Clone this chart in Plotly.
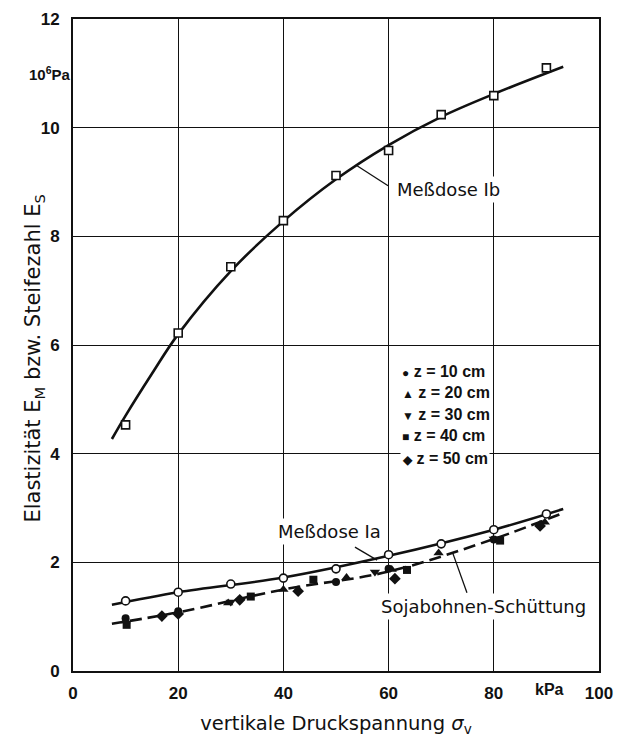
import plotly.graph_objects as go

# Meßdose Ib: measured stiffness values and fitted curve
sigma_ib = [10, 20, 30, 40, 50, 60, 70, 80, 90]
e_ib = [4.53, 6.22, 7.44, 8.29, 9.12, 9.58, 10.24, 10.59, 11.10]
fit_ib_x = [7.4, 10, 15, 20, 30, 40, 50, 60, 70, 80, 93.2]
fit_ib_y = [4.27, 4.70, 5.47, 6.20, 7.36, 8.28, 9.05, 9.68, 10.20, 10.62, 11.12]

# Meßdose Ia
sigma_ia = [10, 20, 30, 40, 50, 60, 70, 80, 90]
e_ia = [1.29, 1.45, 1.60, 1.71, 1.88, 2.14, 2.34, 2.60, 2.89]
fit_ia_x = [7.4, 20, 40, 60, 80, 93.2]
fit_ia_y = [1.22, 1.45, 1.72, 2.12, 2.60, 2.98]

# Sojabohnen-Schüttung (fitted dashed line)
fit_soja_x = [7.4, 20, 40, 60, 80, 93.2]
fit_soja_y = [0.87, 1.08, 1.50, 1.83, 2.43, 2.91]

# Bulk measurements by depth z
z10_x = [10, 20, 50, 60, 80]
z10_y = [0.97, 1.10, 1.64, 1.88, 2.42]
z20_x = [10, 29.5, 40, 52, 60.6, 69.5, 89.7]
z20_y = [0.92, 1.25, 1.50, 1.72, 1.87, 2.17, 2.74]
z30_x = [30, 57.4, 80]
z30_y = [1.27, 1.82, 2.43]
z40_x = [10.2, 33.8, 45.7, 63.5, 81.2]
z40_y = [0.85, 1.37, 1.68, 1.86, 2.40]
z50_x = [16.9, 20, 31.7, 42.8, 61.2, 88.8]
z50_y = [1.01, 1.05, 1.31, 1.47, 1.70, 2.67]

x_ticks = [0, 20, 40, 60, 80, 100]
y_ticks = [0, 2, 4, 6, 8, 10, 12]

legend_rows = [
    ("●", "z = 10 cm"),
    ("▲", "z = 20 cm"),
    ("▼", "z = 30 cm"),
    ("■", "z = 40 cm"),
    ("◆", "z = 50 cm"),
]

TXT = "DejaVu Sans"
BOLD = "Liberation Sans"
ink = "#111111"

fig = go.Figure()

fig.add_trace(go.Scatter(x=fit_ib_x, y=fit_ib_y, mode="lines",
                         line=dict(color=ink, width=2.6, shape="spline", smoothing=1.0)))
fig.add_trace(go.Scatter(x=fit_ia_x, y=fit_ia_y, mode="lines",
                         line=dict(color=ink, width=2.6, shape="spline", smoothing=1.0)))
fig.add_trace(go.Scatter(x=fit_soja_x, y=fit_soja_y, mode="lines",
                         line=dict(color=ink, width=2.6, dash="12px,6px", shape="spline", smoothing=1.0)))

for xs, ys, sym, size in [
    (z10_x, z10_y, "circle", 8),
    (z20_x, z20_y, "triangle-up", 9),
    (z30_x, z30_y, "triangle-down", 9),
    (z40_x, z40_y, "square", 8),
    (z50_x, z50_y, "diamond", 9),
]:
    fig.add_trace(go.Scatter(x=xs, y=ys, mode="markers",
                             marker=dict(symbol=sym, size=size, color=ink, line=dict(width=0))))

fig.add_trace(go.Scatter(x=sigma_ib, y=e_ib, mode="markers",
                         marker=dict(symbol="square", size=8, color="white",
                                     line=dict(color=ink, width=1.6))))
fig.add_trace(go.Scatter(x=sigma_ia, y=e_ia, mode="markers",
                         marker=dict(symbol="circle", size=8, color="white",
                                     line=dict(color=ink, width=1.6))))

# leader lines for the curve labels
for x0, y0, x1, y1 in [(54.0, 9.30, 59.9, 8.93),
                       (53.6, 2.28, 57.8, 2.04),
                       (74.9, 1.44, 72.2, 2.17)]:
    fig.add_shape(type="line", x0=x0, y0=y0, x1=x1, y1=y1, xref="x", yref="y",
                  line=dict(color=ink, width=1.3), layer="above")

annos = [
    dict(x=71.3, y=8.86, text="Meßdose Ib"),
    dict(x=48.7, y=2.56, text="Meßdose Ia"),
    dict(x=78.0, y=1.18, text="Sojabohnen-Schüttung"),
]
for a in annos:
    fig.add_annotation(x=a["x"], y=a["y"], text=a["text"], xref="x", yref="y",
                       showarrow=False, bgcolor="white", borderpad=2,
                       font=dict(family=TXT, size=18, color=ink))

# legend for the depth symbols
leg_y = [5.51, 5.12, 4.73, 4.33, 3.92]
for (glyph, label), yy in zip(legend_rows, leg_y):
    fig.add_annotation(x=62.2, y=yy, xref="x", yref="y", xanchor="left",
                       text=f"<span style='font-size:12px'>{glyph}</span> {label}",
                       showarrow=False, bgcolor="white", borderpad=1,
                       font=dict(family=BOLD, size=16, color=ink, weight="bold"))

# unit labels
fig.add_annotation(x=0, y=11.0, xref="paper", yref="y", xanchor="right",
                   text="10<sup>6</sup>Pa", showarrow=False,
                   font=dict(family=BOLD, size=15, color=ink, weight="bold"))
fig.add_annotation(x=90.5, y=0, xref="x", yref="paper", yanchor="top", yshift=-8,
                   text="kPa", showarrow=False,
                   font=dict(family=BOLD, size=16, color=ink, weight="bold"))

# y-axis title, centred a little below the middle of the axis
fig.add_annotation(x=0, y=5.75, xref="paper", yref="y", xshift=-54,
                   text="Elastizität E<sub>M</sub> bzw. Steifezahl E<sub>S</sub>",
                   textangle=-90, showarrow=False,
                   font=dict(family=TXT, size=21, color=ink))

fig.update_layout(
    width=617, height=737,
    margin=dict(l=73, r=18, t=19, b=66, autoexpand=False),
    paper_bgcolor="white", plot_bgcolor="white",
    showlegend=False,
    xaxis=dict(range=[0, 100], tickvals=x_ticks, automargin=False,
               showgrid=True, gridcolor=ink, gridwidth=1.3,
               showline=True, linecolor=ink, linewidth=2, mirror=True,
               zeroline=False, ticks="", ticklabelstandoff=6,
               tickfont=dict(family=BOLD, size=17, color=ink, weight="bold"),
               title=dict(text="vertikale Druckspannung <i>σ</i><sub>v</sub>",
                          font=dict(family=TXT, size=19.5, color=ink), standoff=15)),
    yaxis=dict(range=[0, 12], tickvals=y_ticks, automargin=False,
               showgrid=True, gridcolor=ink, gridwidth=1.3,
               showline=True, linecolor=ink, linewidth=2, mirror=True,
               zeroline=False, ticks="", ticklabelstandoff=8,
               tickfont=dict(family=BOLD, size=17, color=ink, weight="bold")),
)

fig.write_html("out.html")
